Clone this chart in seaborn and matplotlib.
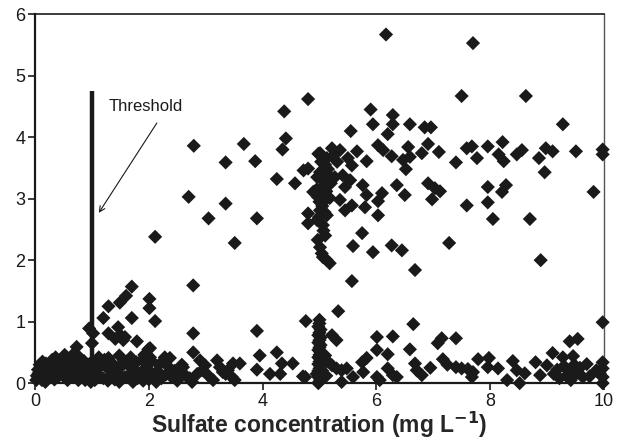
import numpy as np
import pandas as pd
import matplotlib
matplotlib.use("Agg")
import matplotlib.pyplot as plt
import seaborn as sns

# (sulfate mg/L, response) pairs, grouped by region
low_left = [
    (0.02, 0.05), (0.03, 0.12), (0.05, 0.22), (0.08, 0.30), (0.09, 0.10),
    (0.12, 0.05), (0.13, 0.35), (0.15, 0.25), (0.18, 0.02),
    (0.20, 0.20), (0.24, 0.30), (0.26, 0.12), (0.30, 0.38),
    (0.32, 0.22), (0.34, 0.06), (0.36, 0.42), (0.40, 0.10), (0.42, 0.26),
    (0.45, 0.35), (0.50, 0.12), (0.52, 0.46), (0.55, 0.28), (0.57, 0.05),
    (0.60, 0.20), (0.62, 0.38), (0.66, 0.26), (0.68, 0.48), (0.70, 0.12),
    (0.74, 0.34), (0.76, 0.05), (0.78, 0.42), (0.82, 0.22),
    (0.86, 0.36), (0.88, 0.05), (0.92, 0.14), (0.94, 0.30),
    (0.98, 0.02), (1.00, 0.35), (1.00, 0.18), (0.06, 0.16),
    (0.19, 0.32), (0.73, 0.59), (0.67, 0.41),
]
low_mid = [
    (1.03, 0.22), (1.05, 0.05), (1.10, 0.14), (1.16, 0.28),
    (1.20, 0.08), (1.22, 0.38), (1.28, 0.04), (1.30, 0.22), (1.33, 0.12),
    (1.38, 0.30), (1.40, 0.06), (1.46, 0.16), (1.48, 0.02),
    (1.52, 0.28), (1.56, 0.36), (1.58, 0.10), (1.63, 0.30),
    (1.66, 0.14), (1.68, 0.42), (1.72, 0.02), (1.75, 0.22), (1.78, 0.34),
    (1.80, 0.08), (1.86, 0.14), (1.88, 0.38), (1.90, 0.04), (1.93, 0.24),
    (1.98, 0.30), (2.00, 0.06), (2.03, 0.18), (2.05, 0.36), (2.08, 0.10),
    (2.13, 0.02), (2.15, 0.20), (2.18, 0.30), (2.22, 0.08),
    (2.30, 0.14), (2.33, 0.28), (2.40, 0.10), (2.45, 0.20), (2.50, 0.04),
    (1.12, 0.42), (1.48, 0.45), (1.92, 0.46), (2.02, 0.42), (2.55, 0.18),
    (2.60, 0.26), (2.65, 0.12), (2.72, 0.08), (2.76, 0.02), (2.78, 0.50), (2.85, 0.15),
    (2.90, 0.37), (2.94, 0.21), (2.99, 0.29), (3.05, 0.12), (3.13, 0.05),
    (3.20, 0.37), (3.25, 0.26), (3.30, 0.18), (3.39, 0.21), (3.46, 0.10), (3.48, 0.32),
    (3.51, 0.05), (3.60, 0.32), (3.90, 0.22), (3.95, 0.45), (4.13, 0.15), (4.25, 0.50),
    (4.31, 0.15), (4.34, 0.32), (4.53, 0.32), (4.71, 0.11), (4.75, 0.10), (2.58, 0.30),
    (3.35, 0.15), (2.37, 0.41), (2.28, 0.42), (2.02, 0.57), (1.99, 0.55),
]
mid_scatter = [
    (4.80, 4.62), (4.38, 4.42), (4.41, 3.98), (4.35, 3.80), (2.79, 3.86), (3.67, 3.89),
    (3.35, 3.59), (3.87, 3.61), (4.25, 3.32), (4.57, 3.25), (4.72, 3.46), (4.80, 3.49),
    (2.70, 3.03), (3.35, 2.92), (3.05, 2.68), (3.90, 2.68), (4.80, 2.76), (4.89, 3.11),
    (2.11, 2.38), (3.51, 2.28), (2.78, 1.59), (1.70, 1.57), (1.60, 1.42), (1.49, 1.31),
    (1.29, 1.25), (1.20, 1.06), (1.70, 1.06), (2.01, 1.37), (2.01, 1.22), (2.11, 1.01),
    (1.29, 0.81), (1.46, 0.91), (1.41, 0.72), (1.58, 0.75), (1.79, 0.68), (0.95, 0.89),
    (1.02, 0.81), (1.00, 0.65), (2.78, 0.81), (3.90, 0.85), (4.76, 1.01), (1.29, 0.41),
    (1.55, 0.70), (1.50, 0.78),
]
col5_upper = [
    (5.01, 3.74), (5.22, 3.82), (5.36, 3.79), (5.13, 3.66), (5.31, 3.60), (5.50, 3.66),
    (5.57, 3.54), (5.01, 3.43), (5.04, 3.31), (5.27, 3.35), (5.41, 3.38), (5.54, 3.30),
    (5.45, 3.19), (4.97, 3.03), (5.06, 2.94), (5.18, 3.01), (5.36, 2.98), (5.57, 2.89),
    (5.45, 2.81), (5.01, 2.81), (5.13, 2.73), (4.80, 2.60), (4.96, 2.65), (5.06, 2.57),
    (4.97, 2.33), (5.01, 2.21), (5.04, 2.11), (5.13, 2.00), (5.18, 1.95), (4.98, 3.73),
    (5.10, 3.55), (5.15, 3.48), (5.08, 3.22), (4.95, 3.15), (5.02, 3.08), (5.12, 3.12),
    (5.20, 3.25), (5.05, 2.88), (4.99, 2.70), (5.07, 2.48), (5.14, 3.40), (5.24, 3.70),
    (5.00, 2.95), (5.09, 2.78), (5.03, 3.60), (4.96, 3.35), (5.10, 2.40), (5.06, 2.05),
]
right_upper = [
    (6.17, 5.67), (7.70, 5.53), (7.50, 4.67), (8.63, 4.67), (9.28, 4.21), (5.90, 4.45),
    (6.29, 4.36), (6.29, 4.21), (5.94, 4.21), (6.59, 4.21), (6.85, 4.16), (6.96, 4.16),
    (5.55, 4.10), (6.20, 4.05), (6.03, 3.87), (6.12, 3.79), (6.56, 3.84), (6.91, 3.89),
    (5.66, 3.77), (6.27, 3.69), (6.47, 3.63), (6.59, 3.68), (6.80, 3.74), (6.52, 3.48),
    (5.83, 3.61), (7.10, 3.76), (7.40, 3.59), (7.59, 3.82), (7.68, 3.85), (7.77, 3.66),
    (7.96, 3.85), (8.22, 3.92), (8.15, 3.72), (8.24, 3.61), (8.47, 3.72), (8.56, 3.79),
    (8.86, 3.66), (8.98, 3.82), (9.10, 3.77), (9.51, 3.77), (9.98, 3.80), (9.98, 3.72),
    (8.96, 3.43), (5.76, 3.22), (6.36, 3.22), (5.83, 3.06), (6.10, 3.09), (6.50, 3.06),
    (6.03, 2.96), (5.80, 2.86), (6.03, 2.73), (6.91, 3.25), (7.03, 3.17), (7.12, 3.12),
    (6.98, 2.99), (7.96, 3.19), (8.28, 3.22), (8.21, 3.11), (7.59, 2.89), (7.96, 2.94),
    (8.05, 2.67), (8.70, 2.67), (9.82, 3.11), (5.75, 2.44), (5.59, 2.23), (5.94, 2.13),
    (6.27, 2.24), (6.45, 2.16), (7.28, 2.28), (8.89, 2.00), (6.68, 1.84), (5.57, 1.66),
    (5.33, 1.17), (6.65, 0.96),
]
right_low = [
    (5.22, 0.78), (5.30, 0.70), (6.01, 0.75), (6.29, 0.76), (7.15, 0.73), (7.08, 0.65),
    (7.40, 0.73), (9.40, 0.68), (9.54, 0.72), (9.98, 0.99), (6.01, 0.54), (6.20, 0.47),
    (6.59, 0.55), (7.17, 0.39), (5.22, 0.29), (5.30, 0.24), (5.39, 0.21), (5.48, 0.24),
    (5.75, 0.34), (5.83, 0.41), (5.77, 0.18), (5.59, 0.10), (5.39, 0.02), (6.01, 0.10),
    (6.06, 0.05), (6.20, 0.24), (6.29, 0.13), (6.36, 0.10), (6.68, 0.32), (6.71, 0.21),
    (6.80, 0.13), (7.40, 0.26), (7.50, 0.24), (7.61, 0.23), (7.70, 0.18), (7.68, 0.10),
    (7.79, 0.39), (7.98, 0.41), (7.96, 0.26), (8.14, 0.24), (8.40, 0.36), (8.47, 0.21),
    (8.61, 0.16), (8.52, 0.00), (8.80, 0.34), (8.88, 0.13), (9.00, 0.29), (9.10, 0.49),
    (9.28, 0.42), (9.46, 0.44), (9.12, 0.15), (9.18, 0.22), (9.22, 0.08), (9.30, 0.28),
    (9.34, 0.12), (9.38, 0.20), (9.42, 0.05), (9.48, 0.30), (9.52, 0.16), (9.58, 0.25),
    (9.63, 0.10), (9.70, 0.31), (9.75, 0.11), (9.87, 0.21), (9.93, 0.16), (9.98, 0.34),
    (9.98, 0.24), (9.98, 0.10), (9.98, 0.00), (5.10, 0.45), (5.12, 0.12), (5.15, 0.35),
    (6.95, 0.25), (7.25, 0.30), (8.30, 0.05),
]
col5_low = [
    (4.98, 0.00), (5.00, 0.03), (5.02, 0.06), (4.98, 0.10), (5.00, 0.13), (5.02, 0.17),
    (4.98, 0.20), (5.00, 0.24), (5.02, 0.27), (4.98, 0.31), (5.00, 0.35), (5.02, 0.38),
    (4.98, 0.42), (5.00, 0.46), (5.02, 0.50), (4.98, 0.54), (5.00, 0.58), (5.02, 0.62),
    (4.98, 0.66), (5.00, 0.70), (5.02, 0.74), (4.98, 0.78), (5.00, 0.82), (5.02, 0.87),
    (4.98, 0.92), (5.00, 0.97), (5.00, 1.03), (5.06, 0.08), (5.05, 0.20), (4.95, 0.15),
]

threshold = 1.0
threshold_top = 4.75

groups = [low_left, low_mid, mid_scatter, col5_upper, right_upper, right_low, col5_low]
df = pd.DataFrame([p for g in groups for p in g], columns=["sulfate", "value"])

sns.set_style("ticks")
plt.rcParams["font.family"] = ["Liberation Sans", "DejaVu Sans"]

fig = plt.figure(figsize=(6.27, 4.44), dpi=100)
ax = fig.add_axes([0.056, 0.137, 0.907, 0.831])

sns.scatterplot(data=df, x="sulfate", y="value", marker="D", s=52,
                color="#1a1a1a", edgecolor="none", ax=ax, clip_on=False, zorder=3)

ax.plot([threshold, threshold], [0, threshold_top], color="#1a1a1a", lw=3.2,
        solid_capstyle="butt", zorder=4)
ax.annotate("", xy=(1.12, 2.77), xytext=(2.14, 4.23),
            arrowprops=dict(arrowstyle="->", color="#1a1a1a", lw=0.8,
                            shrinkA=0, shrinkB=0))
ax.text(1.3, 4.5, "Threshold", fontsize=12, ha="left", va="center",
        color="#1a1a1a")

ax.set_xlim(0, 10)
ax.set_ylim(0, 6)
ax.set_xticks([0, 2, 4, 6, 8, 10])
ax.set_yticks([0, 1, 2, 3, 4, 5, 6])
ax.tick_params(labelsize=13, length=5, width=1.2, colors="#1a1a1a", pad=2)
ax.set_xlabel("Sulfate concentration (mg L$^{\\mathbf{-1}}$)", fontsize=16.5,
              fontweight="bold", labelpad=0)
ax.set_ylabel("")

for side in ["left", "bottom"]:
    ax.spines[side].set_linewidth(1.6)
    ax.spines[side].set_color("#1a1a1a")
ax.spines["top"].set_linewidth(1.2)
ax.spines["top"].set_color("#1a1a1a")
ax.spines["right"].set_linewidth(1.0)
ax.spines["right"].set_color("#555555")
ax.spines["top"].set_visible(True)
ax.spines["right"].set_visible(True)

fig.savefig("out.png", dpi=100)
